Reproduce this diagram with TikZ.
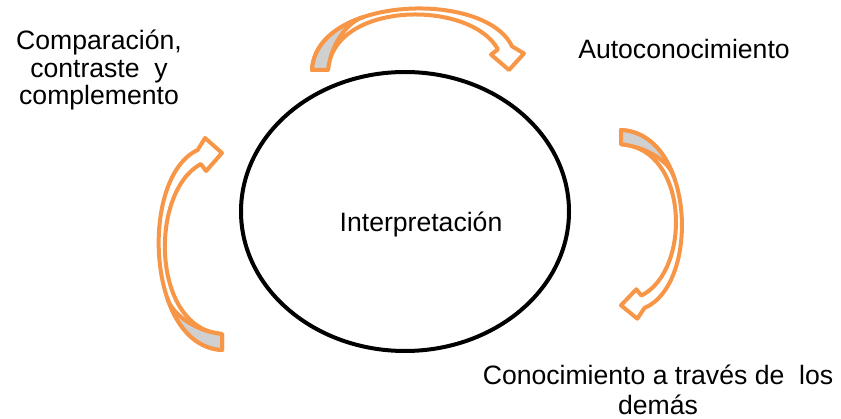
\documentclass[tikz,border=0pt]{standalone}
\usepackage{fontspec}
\setmainfont{Liberation Sans}
\usetikzlibrary{shapes.geometric}
\definecolor{arrowor}{RGB}{247,150,70}
\definecolor{arrowgray}{RGB}{208,208,208}
\newcommand{\curvearrowshape}{%
  \filldraw[arrowline, fill=white] (0,0) .. controls (4,72) and (173,78) .. (200,23)
     -- (212,16) -- (197,0) -- (179,15) -- (186,20)
     .. controls (158,69) and (21,67) .. (16,0) -- cycle;
  \filldraw[arrowline, fill=arrowgray] (0,0) .. controls (1.4,25.2) and (23.0,42.3) .. (51.7,51.55)
     .. controls (36,47) and (19,26) .. (16,0) -- cycle;
}
\begin{document}
\begin{tikzpicture}[x=1pt,y=1pt,
  arrowline/.style={draw=arrowor, line width=4pt, line join=round},
  lbl/.style={font=\fontsize{26.6}{27.5}\selectfont, inner sep=0pt},
  lblwide/.style={font=\fontsize{26.6}{30}\selectfont, inner sep=0pt}]
\useasboundingbox (0,0) rectangle (841,-419);
% central ellipse
\node[draw, ellipse, line width=4pt, minimum width=328pt, minimum height=279pt, inner sep=0pt] (ell) at (405,-211.5) {};
\node[lbl, anchor=base] (interp) at (421,-232) {Interpretación};
% labels
\node[lbl, anchor=base] (auto) at (684,-59) {Autoconocimiento};
\node[lbl, align=center, anchor=base] (comp) at (99,-105) {Comparación,\\contraste~ y\\complemento};
\node[lblwide, align=center, anchor=base] (demas) at (658,-415) {Conocimiento a través de~ los\\demás};
% curved arrows
\begin{scope}[shift={(312pt,-70pt)}, x={(1pt,0pt)}, y={(0pt,1.03pt)}]
  \curvearrowshape
\end{scope}
\begin{scope}[shift={(621pt,-130pt)}, x={(0pt,-0.89pt)}, y={(1.02pt,0pt)}]
  \curvearrowshape
\end{scope}
\begin{scope}[shift={(222pt,-350pt)}, x={(0pt,1pt)}, y={(-1.06pt,0pt)}]
  \curvearrowshape
\end{scope}
\end{tikzpicture}
\end{document}
